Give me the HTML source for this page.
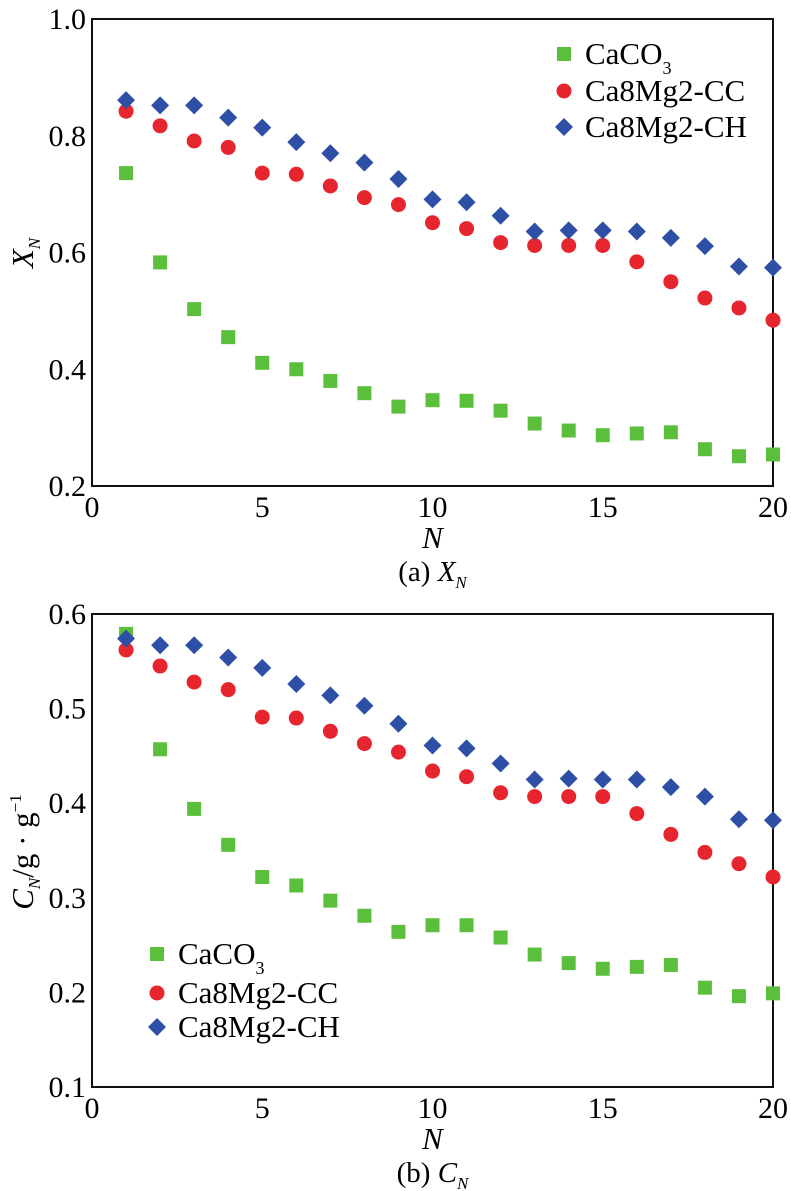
<!DOCTYPE html>
<html><head><meta charset="utf-8"><style>
html,body{margin:0;padding:0;background:#fff;}
svg{display:block;}
svg text{font-family:"Liberation Serif","DejaVu Serif","Times New Roman",serif;}
</style></head><body>
<svg id="fig" width="791" height="1191"></svg>
<script>
const categories=[1,2,3,4,5,6,7,8,9,10,11,12,13,14,15,16,17,18,19,20];
const xnCaCO3=[0.736,0.583,0.503,0.455,0.411,0.400,0.380,0.359,0.336,0.347,0.346,0.329,0.307,0.295,0.287,0.290,0.292,0.263,0.251,0.254];
const xnCC=[0.842,0.817,0.791,0.780,0.736,0.734,0.714,0.694,0.682,0.651,0.641,0.617,0.612,0.612,0.612,0.584,0.550,0.522,0.505,0.484];
const xnCH=[0.861,0.852,0.852,0.831,0.814,0.789,0.770,0.754,0.726,0.691,0.686,0.663,0.636,0.638,0.638,0.636,0.625,0.611,0.576,0.574];
const cnCaCO3=[0.579,0.457,0.394,0.356,0.322,0.313,0.297,0.281,0.264,0.271,0.271,0.258,0.240,0.231,0.225,0.227,0.229,0.205,0.196,0.199];
const cnCC=[0.562,0.545,0.528,0.520,0.491,0.490,0.476,0.463,0.454,0.434,0.428,0.411,0.407,0.407,0.407,0.389,0.367,0.348,0.336,0.322];
const cnCH=[0.574,0.567,0.567,0.554,0.543,0.526,0.514,0.503,0.484,0.461,0.458,0.442,0.425,0.426,0.425,0.425,0.417,0.407,0.383,0.382];
const xTicks=[0,5,10,15,20];
const yTicksA=[0.2,0.4,0.6,0.8,1.0];
const yTicksB=[0.1,0.2,0.3,0.4,0.5,0.6];
const seriesNames=["CaCO3","Ca8Mg2-CC","Ca8Mg2-CH"];

const NS="http://www.w3.org/2000/svg";
const svg=document.getElementById('fig');
const GREEN="#5cbf3c",RED="#e7252e",BLUE="#2e4fa6";
function mk(tag,attrs,parent){const e=document.createElementNS(NS,tag);for(const k in attrs)e.setAttribute(k,attrs[k]);(parent||svg).appendChild(e);return e;}

function panel(cfg){
  const g=mk('g',{});
  
  
  const L=92,R=773,T=cfg.top,B=cfg.bottom;
  const xs=v=>L+(v-0)/(20-0)*(R-L);
  const ys=v=>B-(v-cfg.ymin)/(cfg.ymax-cfg.ymin)*(B-T);
  const frame=mk('rect',{x:L,y:T,width:R-L,height:B-T,fill:'none',stroke:'#111','stroke-width':2},g);
  
  
  xTicks.forEach(v=>{
    const t=mk('text',{x:xs(v),y:B+31,'font-size':30,'text-anchor':'middle'},g);
    t.textContent=v;
    
    
  });
  cfg.yticks.forEach(v=>{
    const t=mk('text',{x:L-6,y:ys(v)+10,'font-size':30,'text-anchor':'end'},g);
    t.textContent=v.toFixed(1);
    
    
  });
  const xt=mk('text',{x:(L+R)/2,y:B+62,'font-size':31,'font-style':'italic','text-anchor':'middle'},g);
  xt.textContent='N';
  
  
  const cap=mk('text',{x:(L+R)/2,y:B+95,'font-size':29,'text-anchor':'middle'},g);
  cap.innerHTML=cfg.caption;
  
  
  const yt=mk('text',{x:0,y:0,'font-size':31,'text-anchor':'middle',transform:`translate(33,${cfg.ytitleY}) rotate(-90)`},g);
  yt.innerHTML=cfg.ytitle;
  
  
  function square(x,y,p,nm){const e=mk('rect',{x:x-7,y:y-7,width:14,height:14,fill:GREEN},p);}
  function circle(x,y,p,nm){const e=mk('circle',{cx:x,cy:y,r:7.5,fill:RED},p);}
  function diamond(x,y,p,nm){const e=mk('polygon',{points:`${x},${y-9} ${x+9},${y} ${x},${y+9} ${x-9},${y}`,fill:BLUE},p);}
  const draws=[square,circle,diamond];
  cfg.series.forEach((arr,si)=>{
    const sg=mk('g',{},g);
    
    
    arr.forEach((v,i)=>draws[si](xs(categories[i]),ys(v),sg,'point'));
  });
  const lg=mk('g',{},g);
  
  
  seriesNames.forEach((n,i)=>{
    const y=cfg.legY[i];
    draws[i](cfg.legX,y,lg,'legend-marker');
    const t=mk('text',{x:cfg.legX+21,y:y+10,'font-size':31},lg);
    t.innerHTML=i===0?'CaCO<tspan font-size="18" dy="10">3</tspan>':n;
    
    
  });
}
panel({name:'panel-a-xn',top:19,bottom:486,ymin:0.2,ymax:1.0,yticks:yTicksA,series:[xnCaCO3,xnCC,xnCH],
  caption:'(a) <tspan font-style="italic">X</tspan><tspan font-style="italic" font-size="17" dy="7">N</tspan>',
  ytitle:'<tspan font-style="italic">X</tspan><tspan font-style="italic" font-size="17" dy="7">N</tspan>',ytitleY:253,
  legX:564,legY:[54,91,127]});
panel({name:'panel-b-cn',top:614,bottom:1087,ymin:0.1,ymax:0.6,yticks:yTicksB,series:[cnCaCO3,cnCC,cnCH],
  caption:'(b) <tspan font-style="italic">C</tspan><tspan font-style="italic" font-size="17" dy="7">N</tspan>',
  ytitle:'<tspan font-style="italic">C</tspan><tspan font-style="italic" font-size="17" dy="7">N</tspan><tspan dy="-7">/g · g</tspan><tspan font-size="17" dy="-12">−1</tspan>',ytitleY:852,
  legX:157,legY:[954,993,1027]});
</script>
</body></html>
